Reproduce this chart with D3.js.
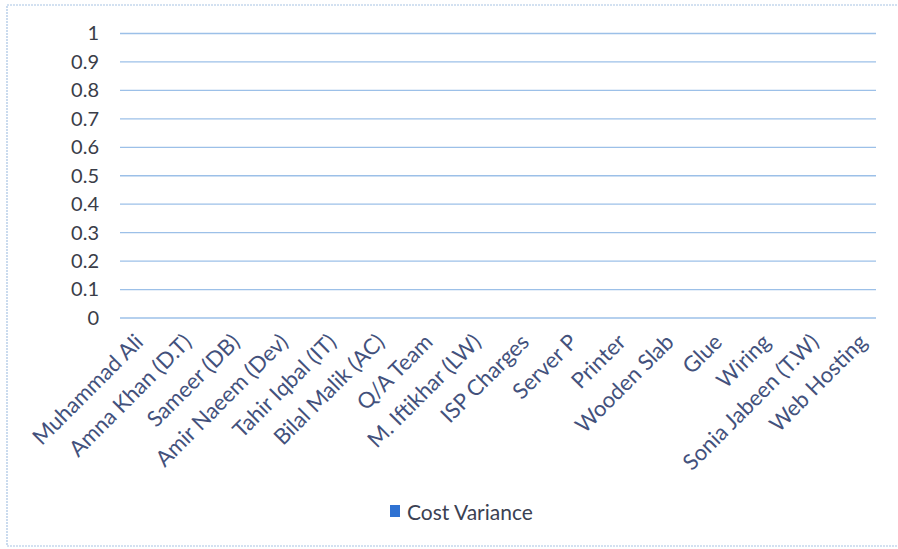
<!DOCTYPE html>
<html>
<head>
<meta charset="utf-8">
<script src="https://cdn.jsdelivr.net/npm/d3@7"></script>
<style>
  html, body { margin: 0; padding: 0; background: #ffffff; }
  svg { display: block; }
</style>
</head>
<body>
<svg id="chart" width="898" height="549"></svg>
<script>
// Categories along the x axis
const categories = [
  "Muhammad Ali", "Amna Khan (D.T)", "Sameer (DB)", "Amir Naeem (Dev)",
  "Tahir Iqbal (IT)", "Bilal Malik (AC)", "Q/A Team", "M. Iftikhar (LW)",
  "ISP Charges", "Server P", "Printer", "Wooden Slab", "Glue", "Wiring",
  "Sonia Jabeen (T.W)", "Web Hosting"
];
// Series values (all zero in this report)
const costVariance = [0, 0, 0, 0, 0, 0, 0, 0, 0, 0, 0, 0, 0, 0, 0, 0];
const seriesName = "Cost Variance";
// Value-axis ticks
const yTicks = [0, 0.1, 0.2, 0.3, 0.4, 0.5, 0.6, 0.7, 0.8, 0.9, 1];
const yTickLabels = ["0", "0.1", "0.2", "0.3", "0.4", "0.5", "0.6", "0.7", "0.8", "0.9", "1"];

const svg = d3.select("#chart");
const W = 898, H = 549;
const plot = { left: 120, right: 876, top: 33.5, bottom: 318 };
const font = "Lato, 'Open Sans', sans-serif";
const barColor = "#2f72d2";

// chart frame
svg.append("rect")
  .attr("x", 7).attr("y", 5)
  .attr("width", W + 10).attr("height", 541)
  .attr("fill", "#ffffff")
  .attr("stroke", "#a8c3e3")
  .attr("stroke-width", 1.2)
  .attr("stroke-dasharray", "2,1");

const x = d3.scaleBand()
  .domain(categories)
  .range([plot.left, plot.right + 16])
  .paddingInner(0.3)
  .paddingOuter(0.15);

const y = d3.scaleLinear()
  .domain([0, 1])
  .range([plot.bottom, plot.top]);

// horizontal gridlines
svg.append("g")
  .selectAll("line")
  .data(yTicks)
  .join("line")
  .attr("x1", plot.left)
  .attr("x2", plot.right)
  .attr("y1", d => y(d))
  .attr("y2", d => y(d))
  .attr("stroke", "#9cc0e8")
  .attr("stroke-width", 1.3);

// value-axis labels
const yAxis = d3.axisLeft(y)
  .tickValues(yTicks)
  .tickFormat((d, i) => yTickLabels[i])
  .tickSize(0)
  .tickPadding(21);
const gy = svg.append("g")
  .attr("transform", `translate(${plot.left},0)`)
  .call(yAxis);
gy.select(".domain").remove();
gy.selectAll("text")
  .attr("font-family", font)
  .attr("font-size", 20)
  .attr("fill", "#3a3d48");

// bars (zero height for every category)
svg.append("g")
  .selectAll("rect")
  .data(costVariance)
  .join("rect")
  .attr("x", (d, i) => x(categories[i]))
  .attr("width", x.bandwidth())
  .attr("y", d => y(d))
  .attr("height", d => y(0) - y(d))
  .attr("fill", barColor);

// rotated category labels, right end anchored under each category
svg.append("g")
  .selectAll("text")
  .data(categories)
  .join("text")
  .attr("transform", d => `translate(${x(d) + x.bandwidth() / 2 - 5},${plot.bottom + 20}) rotate(-45)`)
  .attr("text-anchor", "end")
  .attr("dy", "0.35em")
  .attr("font-family", font)
  .attr("font-size", 22)
  .attr("fill", "#43517c")
  .text(d => d);

// legend
const legend = svg.append("g").attr("transform", "translate(390,505)");
legend.append("rect")
  .attr("width", 10).attr("height", 12)
  .attr("fill", barColor);
legend.append("text")
  .attr("x", 17).attr("y", 15)
  .attr("font-family", font)
  .attr("font-size", 21)
  .attr("fill", "#3b4152")
  .text(seriesName);
</script>
</body>
</html>
